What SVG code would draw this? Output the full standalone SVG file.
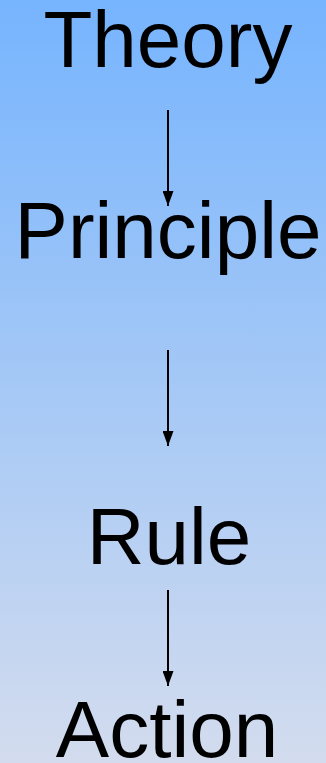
<svg xmlns="http://www.w3.org/2000/svg" width="326" height="763" viewBox="0 0 326 763">
<defs>
<linearGradient id="bg" x1="0" y1="0" x2="0" y2="1">
<stop offset="0" stop-color="#76b4fe"/>
<stop offset="1" stop-color="#d3dcee"/>
</linearGradient>
<marker id="ah" markerWidth="15" markerHeight="11" refX="15" refY="5.5" orient="auto" markerUnits="userSpaceOnUse" viewBox="0 0 15 11">
<path d="M0,0 L15,5.5 L0,11 Z" fill="#000"/>
</marker>
<style>
.t{font-family:"Liberation Sans",Arial,sans-serif;font-size:80px;fill:#000;text-anchor:middle}
.c{stroke:#000;stroke-width:2;fill:none}
</style>
</defs>
<rect width="326" height="763" fill="url(#bg)"/>
<g id="theory"><text class="t" x="168" y="67">Theory</text></g>
<g id="principle"><text class="t" x="168" y="258">Principle</text></g>
<g id="rule"><text class="t" x="169" y="564">Rule</text></g>
<g id="action"><text class="t" x="167" y="757">Action</text></g>
<g id="connectors">
<line class="c" x1="168" y1="110" x2="168" y2="206" marker-end="url(#ah)"/>
<line class="c" x1="168" y1="350" x2="168" y2="446" marker-end="url(#ah)"/>
<line class="c" x1="168" y1="590" x2="168" y2="686" marker-end="url(#ah)"/>
</g>
</svg>
